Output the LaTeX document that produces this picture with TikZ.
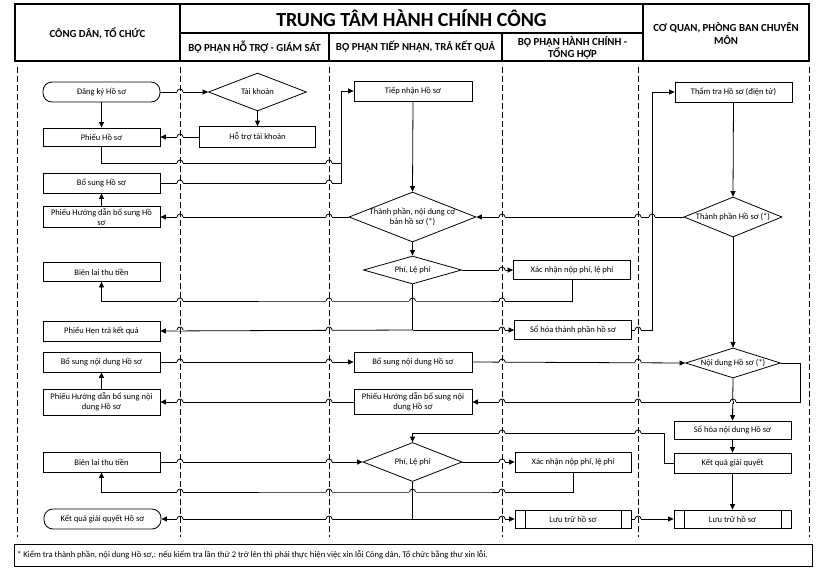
\documentclass[tikz,border=0pt]{standalone}
\usepackage{fontspec}
\setmainfont{Carlito}
\usetikzlibrary{shapes.geometric,arrows.meta,calc}
\begin{document}
\begin{tikzpicture}[x=1pt,y=-1pt,
  conn/.style={line width=0.8pt},
  arr/.style={conn,-{Triangle[length=5.5pt,width=5pt]}},
  box/.style={draw,line width=0.8pt,minimum width=117pt,minimum height=20pt,inner sep=1pt,align=center,font=\fontsize{8.5}{9.5}\selectfont},
  rbox/.style={box,rounded corners=9pt},
  dia/.style={draw,diamond,line width=0.8pt,inner sep=0pt,align=center,font=\fontsize{8.5}{9.5}\selectfont},
  pp/.style={box,path picture={\draw[line width=0.8pt] ([xshift=10pt]path picture bounding box.north west) -- ([xshift=10pt]path picture bounding box.south west) ([xshift=-10pt]path picture bounding box.north east) -- ([xshift=-10pt]path picture bounding box.south east);}},
  lane/.style={dash pattern=on 6pt off 3pt, line width=0.8pt},
  hframe/.style={line width=1.2pt},
  hdr/.style={font=\bfseries\fontsize{10.8}{12}\selectfont,align=center},
  jump/.pic={\fill[white] (-3.3,-1) rectangle (3.3,1); \draw[conn] (-3,0) arc[start angle=180,end angle=0,radius=3pt];},
  jumpv/.pic={\fill[white] (-3.3,-1) rectangle (3.3,1); \draw[conn] (-3,0) arc[start angle=180,end angle=0,radius=3pt]; \draw[conn] (0,-1.5) -- (0,1.5);}
]
\useasboundingbox (0,0) rectangle (817,571);
\fill[white] (0,0) rectangle (817,571);

% header
\draw[hframe] (15,4) rectangle (809,61);
\draw[hframe] (180,4) -- (180,61) (643,4) -- (643,61) (180,33) -- (643,33) (329,33) -- (329,61) (502,33) -- (502,61);
\node[hdr] (hcd) at (97.5,33) {CÔNG DÂN, TỔ CHỨC};
\node[font=\bfseries\fontsize{20}{22}\selectfont] (htitle) at (411.5,18) {TRUNG TÂM HÀNH CHÍNH CÔNG};
\node[hdr] (hht) at (254.5,47) {BỘ PHẬN HỖ TRỢ - GIÁM SÁT};
\node[hdr] (htn) at (415.5,47) {BỘ PHẬN TIẾP NHẬN, TRẢ KẾT QUẢ};
\node[hdr] (hhc) at (572.5,48) {BỘ PHẬN HÀNH CHÍNH -\\TỔNG HỢP};
\node[hdr,font=\bfseries\fontsize{10.8}{13}\selectfont] (hcq) at (726,33) {CƠ QUAN, PHÒNG BAN CHUYÊN\\MÔN};

% lanes
\foreach \x/\n in {17/L1,180/L2,329/L3,502/L4,638/L5,809/L6} \coordinate (\n) at (\x,67);

% left column
\node[rbox] (dangky) at (101.5,92) {Đăng ký Hồ sơ};
\node[box,minimum height=18pt] (phieuhs) at (101.5,137) {Phiếu Hồ sơ};
\node[box] (bosunghs) at (101.5,183) {Bổ sung Hồ sơ};
\node[box,minimum height=21pt] (phieuhd1) at (101.5,217) {Phiếu Hướng dẫn bổ sung Hồ\\sơ};
\node[box,minimum height=19pt] (bienlai1) at (101.5,272) {Biên lai thu tiền};
\node[box] (phieuhen) at (101.5,331) {Phiếu Hẹn trả kết quả};
\node[box] (bsnd1) at (101.5,362) {Bổ sung nội dung Hồ sơ};
\node[box,minimum height=26pt] (phieuhd2) at (101.5,402) {Phiếu Hướng dẫn bổ sung nội\\dung Hồ sơ};
\node[box] (bienlai2) at (101.5,462) {Biên lai thu tiền};
\node[rbox] (ketquahs) at (102.5,519) {Kết quả giải quyết Hồ sơ};

% ho tro column
\node[dia,minimum width=98pt,minimum height=38pt,shape aspect=2.6] (taikhoan) at (257.5,92) {Tài khoản};
\node[box,minimum width=116pt,minimum height=21pt] (hotro) at (257.5,137) {Hỗ trợ tài khoản};

% tiep nhan column
\node[box,minimum width=118pt] (tiepnhan) at (413,91) {Tiếp nhận Hồ sơ};
\node[dia,minimum width=127pt,minimum height=50pt,shape aspect=2.54,inner sep=-1.5pt] (tp1) at (412.5,217) {Thành phần, nội dung cơ\\bản hồ sơ (*)};
\node[dia,minimum width=98pt,minimum height=28pt,shape aspect=3.5] (phi1) at (412.5,270) {Phí, Lệ phí};
\node[box,minimum width=118pt] (bsnd2) at (413,362) {Bổ sung nội dung Hồ sơ};
\node[box,minimum width=118pt,minimum height=25pt] (phieuhd3) at (413,402) {Phiếu Hướng dẫn bổ sung nội\\dung Hồ sơ};
\node[dia,minimum width=99pt,minimum height=39pt,shape aspect=2.54] (phi2) at (412.5,462) {Phí, Lệ phí};

% hanh chinh column
\node[box,minimum height=19pt] (xacnhan1) at (572,270) {Xác nhận nộp phí, lệ phí};
\node[box,minimum height=19pt] (sohoa1) at (573,330) {Sổ hóa thành phần hồ sơ};
\node[box,minimum width=116pt] (xacnhan2) at (573,462) {Xác nhận nộp phí, lệ phí};
\node[pp,minimum width=116pt,minimum height=18pt] (luutru1) at (573,519) {Lưu trữ hồ sơ};

% co quan column
\node[box] (thamtra) at (733.5,92) {Thẩm tra Hồ sơ (điện tử)};
\node[dia,minimum width=98pt,minimum height=40pt,shape aspect=2.45] (tphs) at (733,217) {Thành phần Hồ sơ (*)};
\node[dia,minimum width=95pt,minimum height=30pt,shape aspect=3.17] (noidung) at (733,363) {Nội dung Hồ sơ (*)};
\node[box,minimum height=18pt] (sohoa2) at (732.5,430) {Sổ hóa nội dung Hồ sơ};
\node[box] (ketqua) at (732.5,463) {Kết quả giải quyết};
\node[pp,minimum height=18pt] (luutru2) at (732.5,519) {Lưu trữ hồ sơ};

% helper coordinates
\coordinate (v1) at (341,163);
\coordinate (h1) at (412.5,301);
\coordinate (t1) at (412.5,330);
\coordinate (v2) at (652,330);
\coordinate (v3) at (800,402);
\coordinate (k1) at (664,433);
\coordinate (h5) at (412.5,492);
\coordinate (t2) at (412.5,519);

% connectors
\draw[arr] (dangky.east) -- (taikhoan.west);
\draw[arr] (dangky.south) -- (phieuhs.north);
\draw[arr] (taikhoan.south) -- (hotro.north);
\draw[arr] (hotro.west) -- (phieuhs.east);
\draw[arr] (phieuhs.south) |- (v1) |- (tiepnhan.west);
\draw[conn] (bosunghs.east) -| (v1);
\draw[arr] (phieuhd1.north) -- (bosunghs.south);
\draw[arr] (tp1.west) -- (phieuhd1.east);
\draw[arr] (tiepnhan.south) -- (tp1.north);
\draw[arr] (tp1.south) -- (phi1.north);
\draw[arr] (phi1.east) -- (xacnhan1.west);
\draw[arr] (xacnhan1.south) |- (h1) -| (bienlai1.south);
\draw[conn] (phi1.south) -- (t1);
\draw[arr] (t1) -- (phieuhen.east);
\draw[arr] (t1) -- (sohoa1.west);
\draw[arr] (sohoa1.east) -- (v2) |- (thamtra.west);
\draw[arr] (thamtra.south) -- (tphs.north);
\draw[arr] (tphs.west) -- (tp1.east);
\draw[arr] (tphs.south) -- (noidung.north);
\draw[arr] (bsnd1.east) -- (bsnd2.west);
\draw[arr] (phieuhd2.north) -- (bsnd1.south);
\draw[arr] (bsnd2.east) -- (noidung.west);
\draw[arr] (noidung.east) -| (v3) -- (phieuhd3.east);
\draw[arr] (phieuhd3.west) -- (phieuhd2.east);
\draw[arr] (noidung.south) -- (sohoa2.north);
\draw[arr] (sohoa2.south) -- (ketqua.north);
\draw[arr] (ketqua.west) -| (k1) -| (phi2.north);
\draw[arr] (bienlai2.east) -- (phi2.west);
\draw[arr] (phi2.east) -- (xacnhan2.west);
\draw[arr] (xacnhan2.south) |- (h5) -| (bienlai2.south);
\draw[conn] (phi2.south) -- (t2);
\draw[arr] (t2) -- (ketquahs.east);
\draw[arr] (t2) -- (luutru1.west);
\draw[arr] (luutru1.east) -- (luutru2.west);
\draw[arr] (ketqua.south) -- (luutru2.north);

% jumps over lanes
\foreach \c in {dangky.east,phieuhs.east,v1,bosunghs.east,phieuhd1.east,h1,t1,bsnd1.east,phieuhd2.east,bienlai2.east,h5,t2}
  \pic at (L2 |- \c) {jump};
\foreach \c in {v1,bosunghs.east,phieuhd1.east,h1,t1,bsnd1.east,phieuhd2.east,bienlai2.east,h5,t2}
  \pic at (L3 |- \c) {jump};
\foreach \c in {phi1.east,h1,t1,tp1.east,bsnd2.east,phieuhd3.east,k1,phi2.east,h5,t2}
  \pic at (L4 |- \c) {jump};
\foreach \c in {v2,tp1.east,bsnd2.east,phieuhd3.east,k1,luutru1.east}
  \pic at (L5 |- \c) {jump};
% jumps over connectors
\pic at (h1) {jumpv};
\pic at (h5) {jumpv};
\pic at (v2 |- tphs.west) {jumpv};
\pic at (noidung.south |- v3) {jumpv};

% lane lines
\foreach \n in {L1,L2,L3,L4,L5,L6} \draw[lane] (\n) -- ++(0,470);

% footnote
\node[draw,line width=0.8pt,minimum width=798pt,minimum height=22pt,anchor=north west,inner sep=0pt] (notebox) at (14,544) {};
\node[anchor=west,inner sep=0pt,font=\fontsize{8.6}{9.5}\selectfont] (note) at (17,555) {* Kiểm tra thành phần, nội dung Hồ sơ,: nếu kiểm tra lần thứ 2 trở lên thì phải thực hiện việc xin lỗi Công dân, Tổ chức bằng thư xin lỗi.};
\end{tikzpicture}
\end{document}
